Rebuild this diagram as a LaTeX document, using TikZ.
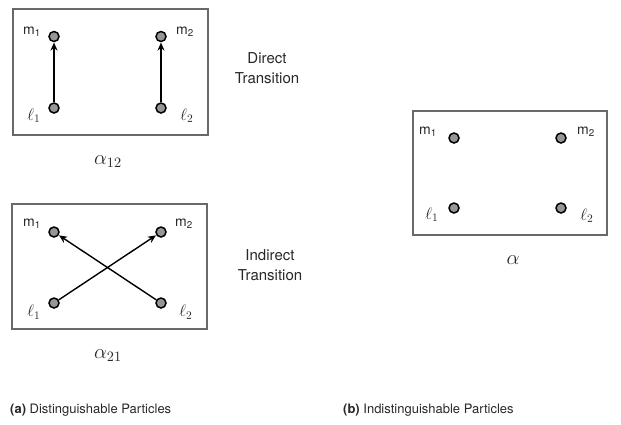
\documentclass[tikz,border=0pt]{standalone}
\usepackage{fontspec}
\setmainfont{TeX Gyre Heros}
\usetikzlibrary{arrows.meta}
\definecolor{boxgray}{RGB}{105,105,105}
\definecolor{dotgray}{RGB}{150,150,150}
\definecolor{txt}{RGB}{40,40,40}
\tikzset{
  frame/.style={draw=boxgray,line width=1.2pt},
  dot/.style={circle,draw=black,fill=dotgray,line width=1.5pt,minimum size=10pt,inner sep=0pt},
  lab/.style={inner sep=0pt,text=txt,font=\fontsize{14}{16}\selectfont},
  mlab/.style={inner sep=0pt,text=txt,font=\fontsize{14}{16}\selectfont,scale=1.15},
  big/.style={inner sep=0pt,text=txt,font=\fontsize{14}{16}\selectfont,scale=1.43},
  desc/.style={inner sep=0pt,text=txt,align=center,font=\fontsize{15}{20}\selectfont},
  captxt/.style={inner sep=0pt,text=txt,anchor=west,font=\fontsize{13}{15}\selectfont},
  arr/.style={-{Stealth[length=8pt,width=7pt,inset=2.5pt]},line width=1.4pt,shorten >=0.3pt}
}
\begin{document}
\begin{tikzpicture}[x=1pt,y=-1pt]
\useasboundingbox (0,0) rectangle (621,424);
% Box 1: direct
\node[frame,minimum width=195pt,minimum height=126pt,inner sep=0pt] (box1) at (110.5,72) {};
\node[dot] (a1m1) at (54,36.5) {};
\node[dot] (a1m2) at (161,36.5) {};
\node[dot] (a1l1) at (54,108) {};
\node[dot] (a1l2) at (161,108) {};
\node[lab] (a1tm1) at (32,32) {m\textsubscript{1}};
\node[lab] (a1tm2) at (185,32) {m\textsubscript{2}};
\node[mlab] (a1tl1) at (34,116) {$\ell_1$};
\node[mlab] (a1tl2) at (187,116) {$\ell_2$};
\draw[arr] (a1l1) -- (a1m1);
\draw[arr] (a1l2) -- (a1m2);
\node[big] (alpha12) at (108,162) {$\alpha_{12}$};
\node[desc] (direct) at (267,68) {Direct\\Transition};
% Box 2: indirect
\node[frame,minimum width=195pt,minimum height=125pt,inner sep=0pt] (box2) at (109.5,266.5) {};
\node[dot] (a2m1) at (54,232) {};
\node[dot] (a2m2) at (161,232) {};
\node[dot] (a2l1) at (54,303) {};
\node[dot] (a2l2) at (161,303) {};
\node[lab] (a2tm1) at (32,224) {m\textsubscript{1}};
\node[lab] (a2tm2) at (184,224) {m\textsubscript{2}};
\node[mlab] (a2tl1) at (34,312) {$\ell_1$};
\node[mlab] (a2tl2) at (186,312) {$\ell_2$};
\draw[arr] (a2l1) -- (a2m2);
\draw[arr] (a2l2) -- (a2m1);
\node[big] (alpha21) at (108,356) {$\alpha_{21}$};
\node[desc] (indirect) at (270,265) {Indirect\\Transition};
% Box 3: indistinguishable
\node[frame,minimum width=194pt,minimum height=124pt,inner sep=0pt] (box3) at (510,173) {};
\node[dot] (bm1) at (454,138) {};
\node[dot] (bm2) at (561,138) {};
\node[dot] (bl1) at (454,208) {};
\node[dot] (bl2) at (561,208) {};
\node[lab] (btm1) at (428,132) {m\textsubscript{1}};
\node[lab] (btm2) at (586,132) {m\textsubscript{2}};
\node[mlab] (btl1) at (432,215) {$\ell_1$};
\node[mlab] (btl2) at (587,216) {$\ell_2$};
\node[big] (alpha) at (513,260) {$\alpha$};
% Captions
\node[captxt] (capa) at (10,410) {\textbf{(a)} Distinguishable Particles};
\node[captxt] (capb) at (343,410) {\textbf{(b)} Indistinguishable Particles};
\end{tikzpicture}
\end{document}
